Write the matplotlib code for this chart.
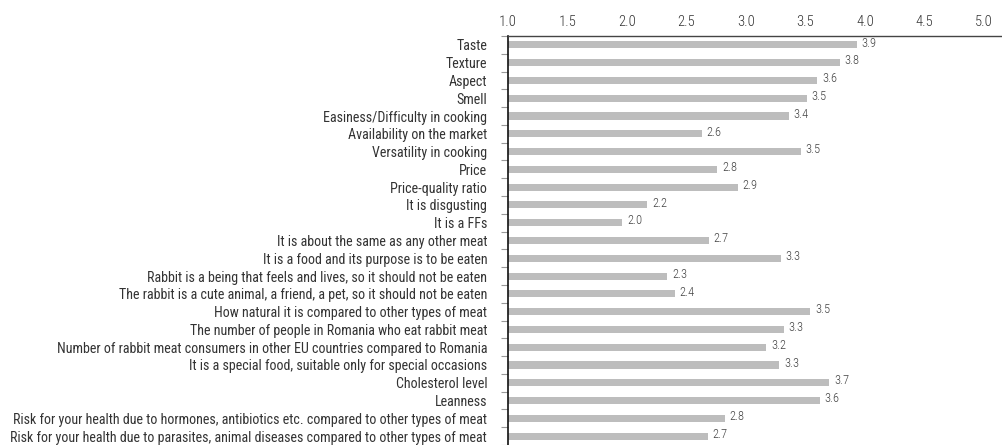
import matplotlib
matplotlib.use("Agg")
import matplotlib.pyplot as plt
from matplotlib import font_manager
import numpy as np

names = set(f.name for f in font_manager.fontManager.ttflist)
fam = "DejaVu Sans"
for cand in ["Roboto Condensed", "Archivo Narrow", "PT Sans Narrow", "Liberation Sans Narrow", "Open Sans Condensed"]:
    if cand in names:
        fam = cand
        break
plt.rcParams['font.family'] = [fam, 'DejaVu Sans']

categories = [
    "Taste", "Texture", "Aspect", "Smell", "Easiness/Difficulty in cooking",
    "Availability on the market", "Versatility in cooking", "Price",
    "Price-quality ratio", "It is disgusting", "It is a FFs",
    "It is about the same as any other meat",
    "It is a food and its purpose is to be eaten",
    "Rabbit is a being that feels and lives, so it should not be eaten",
    "The rabbit is a cute animal, a friend, a pet, so it should not be eaten",
    "How natural it is compared to other types of meat",
    "The number of people in Romania who eat rabbit meat",
    "Number of rabbit meat consumers in other EU countries compared to Romania",
    "It is a special food, suitable only for special occasions",
    "Cholesterol level", "Leanness",
    "Risk for your health due to hormones, antibiotics etc. compared to other types of meat",
    "Risk for your health due to parasites, animal diseases compared to other types of meat",
]
values = [3.93, 3.79, 3.60, 3.51, 3.36, 2.63, 3.46, 2.76, 2.93, 2.17, 1.96,
          2.69, 3.29, 2.34, 2.40, 3.54, 3.32, 3.17, 3.28, 3.70, 3.62, 2.82, 2.68]
xticks = [1.0, 1.5, 2.0, 2.5, 3.0, 3.5, 4.0, 4.5, 5.0]

fig = plt.figure(figsize=(10.02, 4.45), dpi=100)
ax = fig.add_axes([508/1002, 0, 1 - 508/1002, 1 - 36/445])
y = np.arange(len(categories))
base = 1.0
ax.barh(y, [v - base for v in values], left=base, height=0.4, color="#bdbdbd")
for yi, v in zip(y, values):
    ax.text(v + 0.04, yi - 0.1, f"{v:.1f}", va="center", ha="left", fontsize=9,
            color="#444444", fontweight=300)
ax.set_xlim(1.0, 1 + (1002 - 508) / 119)
ax.set_ylim(len(categories) - 0.5, -0.5)
ax.xaxis.tick_top()
ax.set_xticks(xticks)
ax.set_xticklabels([f"{t:.1f}" for t in xticks], fontsize=10.5, color="#333333", fontweight=300)
ax.tick_params(axis='x', length=0, pad=5)
ax.set_yticks(y)
ax.set_yticklabels(categories, fontsize=10.1, color="#333333")
ax.tick_params(axis='y', which='major', length=0, pad=15)
ax.set_yticks(np.arange(-0.5, len(categories), 1), minor=True)
ax.tick_params(axis='y', which='minor', length=5, color="#999999", width=0.8)
for s in ["right", "bottom"]:
    ax.spines[s].set_visible(False)
ax.spines["left"].set_color("#111111")
ax.spines["left"].set_linewidth(1.2)
ax.spines["top"].set_color("#444444")
ax.spines["top"].set_linewidth(1.0)
fig.savefig("out.png", dpi=100)
